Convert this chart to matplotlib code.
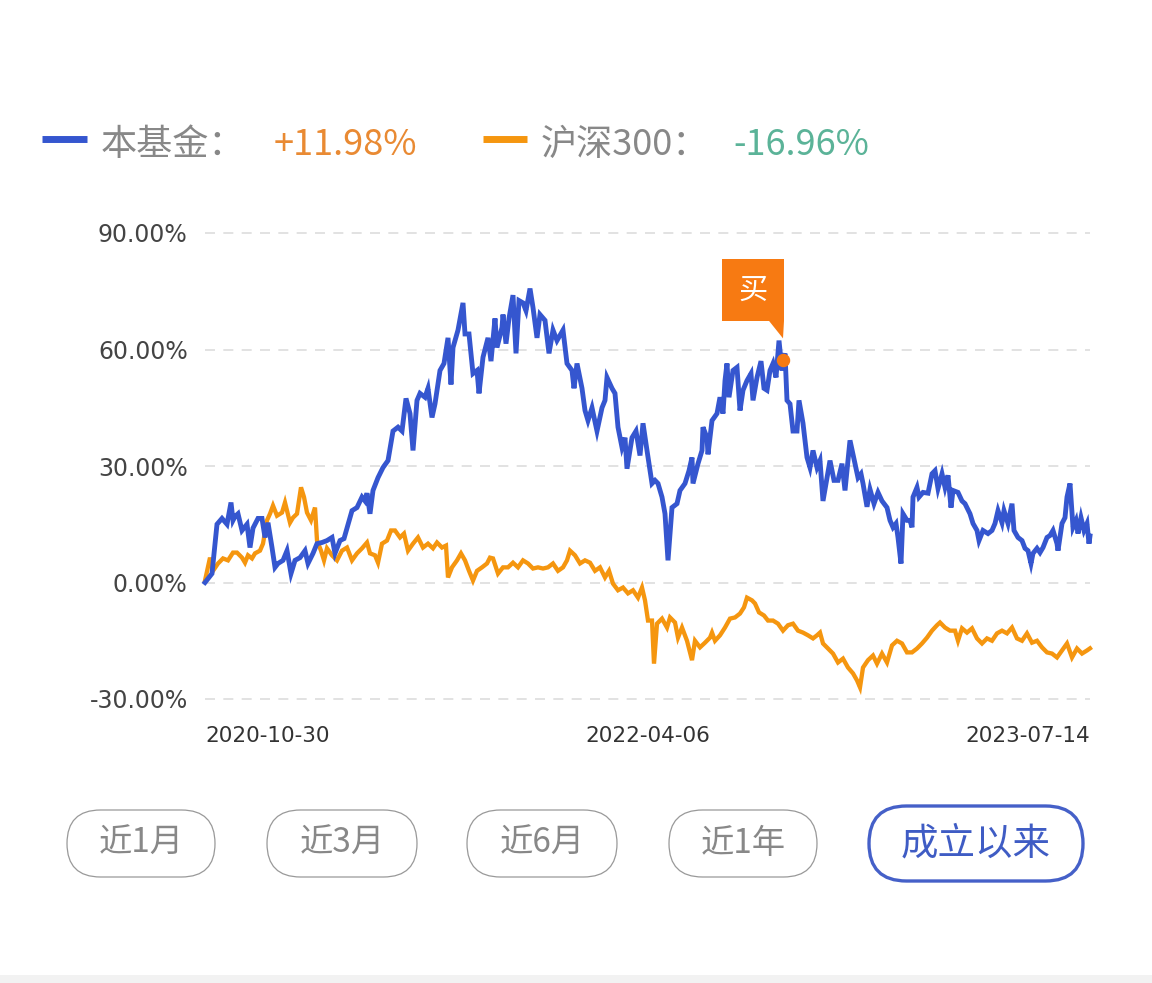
import matplotlib
matplotlib.use("Agg")
import matplotlib.pyplot as plt
from matplotlib.patches import FancyBboxPatch, Rectangle, Polygon
import numpy as np

plt.rcParams['font.family'] = ['Noto Sans CJK SC', 'DejaVu Sans']

# ---------------- data (sample index 0..885, cumulative return %) ----------------
fund_idx = [0, 7, 12, 17, 22, 26, 28, 30, 33, 37, 42, 45, 48, 53, 57, 60, 63, 67, 70, 73,
            78, 82, 86, 90, 95, 100, 103, 108, 112, 117, 122, 127, 130, 135, 139, 142, 147, 152, 157, 160,
            162, 165, 168, 173, 178, 183, 188, 193, 197, 201, 205, 208, 212, 215, 220, 223, 227, 230, 235, 239,
            243, 246, 248, 253, 258, 260, 264, 268, 272, 274, 278, 283, 286, 290, 292, 297, 298, 301, 304, 308,
            311, 314, 318, 321, 325, 328, 332, 335, 340, 344, 348, 352, 358, 362, 367, 369, 372, 377, 380, 383,
            387, 392, 397, 400, 402, 407, 410, 413, 417, 420, 422, 427, 431, 435, 438, 442, 447, 450, 453, 457,
            460, 463, 467, 472, 475, 480, 484, 487, 488, 493, 497, 498, 502, 503, 507, 512, 515, 518, 520, 522,
            524, 528, 532, 535, 538, 542, 546, 548, 552, 556, 559, 562, 565, 568, 571, 574, 577, 578, 580, 582,
            585, 588, 592, 594, 598, 602, 605, 608, 612, 615, 618, 622, 625, 629, 633, 637, 640, 645, 650, 653,
            656, 658, 662, 665, 669, 673, 677, 682, 685, 688, 691, 693, 696, 698, 702, 705, 707, 708, 712, 714,
            718, 723, 727, 730, 733, 737, 740, 743, 746, 748, 753, 757, 760, 765, 768, 772, 774, 778, 783, 787,
            790, 793, 797, 799, 803, 807, 809, 813, 817, 820, 823, 826, 828, 832, 835, 838, 842, 845, 848, 852,
            853, 857, 860, 862, 865, 868, 871, 873, 876, 879, 882, 884, 885]
fund_val = [0, 2.3, 15, 16.5, 15, 20.6, 16, 17, 17.7, 13.4, 15, 9, 14, 16.5, 16.5, 11.6, 15.4, 9, 3.9, 4.9,
            5.7, 8.2, 2.3, 5.7, 6.4, 8.2, 4.9, 7.5, 10, 10.3, 10.8, 11.6, 7.5, 10.8, 11.3, 14, 18.5, 19.3, 22, 21,
            23, 17.7, 23.7, 27, 29.6, 31.4, 39, 40, 39, 47.4, 43.5, 34, 46.9, 48.7, 47.7, 50, 42.5, 46, 54.6, 56.4,
            63, 51, 60.5, 65, 72, 64, 64, 53.8, 54.6, 48.7, 58, 63, 57, 68, 60.5, 65.7, 69, 61.5, 68, 74,
            59, 72.6, 72, 70, 75.7, 70.8, 63, 69, 67.5, 59, 65, 62.3, 65, 56.4, 54.6, 50, 56.4, 50, 44.3, 41.7,
            45, 39, 45, 46.9, 52.8, 50, 48.7, 40, 34.8, 37.3, 29.3, 37.3, 39, 32.7, 41, 34, 25.5, 26.3, 25.5, 22,
            17.7, 5.7, 19.3, 20.3, 23.7, 25.5, 28.8, 32.2, 25.5, 30.6, 34, 40, 37.3, 33, 41.7, 43.5, 47.7, 43.5, 52, 56.4,
            47.7, 54.6, 55.4, 44.3, 49.5, 52, 53.8, 46.9, 52.8, 57, 50, 49.5, 54.6, 56.4, 52.8, 62.3, 54.6, 57.2, 59, 46.9,
            46, 39, 39, 46.9, 41, 32.2, 29.6, 34, 29.6, 31.4, 21, 27, 31.4, 26.3, 26.3, 30.6, 23.7, 36.6, 30.6, 27,
            28, 25.5, 19.5, 24, 20.3, 23.2, 21, 19.3, 16, 14.2, 15.2, 11.6, 4.9, 17.7, 16, 16, 14.2, 22, 24.5, 22,
            23.2, 23, 28, 28.8, 24.2, 28, 24.5, 27.6, 19.3, 23.7, 23.2, 21, 20.3, 17.7, 15.2, 13.4, 10.8, 13.4, 12.6, 13.4,
            15.2, 18.5, 15.4, 18.5, 15.2, 20.3, 13.4, 11.6, 10.8, 8.8, 8.2, 4.9, 7.5, 8.8, 7.7, 9, 11.6, 12.1, 13.4, 10,
            8.2, 15.2, 16.7, 22, 25.5, 14.2, 16, 12.6, 16.7, 13.4, 15.2, 10, 11.98]

index_idx = [0, 5, 8, 13, 18, 23, 28, 32, 37, 40, 43, 47, 50, 55, 58, 62, 65, 68, 72, 77,
             80, 85, 88, 92, 96, 99, 102, 106, 110, 112, 116, 119, 122, 127, 132, 137, 142, 147, 152, 157,
             162, 165, 170, 173, 177, 182, 186, 190, 195, 199, 203, 208, 213, 218, 223, 228, 232, 237, 241, 243,
             247, 252, 256, 260, 264, 268, 272, 277, 282, 285, 288, 293, 298, 303, 308, 313, 318, 323, 328, 333,
             338, 343, 348, 353, 358, 362, 365, 370, 375, 380, 385, 390, 395, 400, 404, 408, 413, 418, 423, 428,
             433, 437, 440, 443, 447, 449, 452, 457, 462, 465, 470, 473, 477, 482, 487, 490, 495, 500, 505, 507,
             510, 515, 520, 525, 530, 535, 539, 542, 547, 550, 554, 559, 563, 568, 573, 578, 583, 588, 593, 598,
             603, 608, 612, 615, 618, 623, 628, 633, 638, 643, 648, 652, 655, 658, 663, 668, 672, 677, 682, 687,
             692, 697, 702, 707, 712, 717, 722, 727, 732, 735, 740, 745, 750, 753, 757, 762, 767, 772, 777, 782,
             787, 792, 797, 802, 807, 812, 817, 822, 827, 832, 837, 842, 847, 852, 857, 862, 867, 872, 877, 882, 885]
index_val = [0.5, 6.4, 3, 4.9, 6.2, 5.7, 7.7, 7.7, 6.4, 5.1, 7, 6.2, 7.5, 8.2, 10, 16, 17.7, 19.8, 17.2, 18,
             20.6, 15.4, 16.7, 17.7, 24.5, 22, 18, 16, 19.3, 10.8, 8.2, 5.7, 8.8, 7, 5.7, 8.2, 9, 5.7, 7.5, 8.8,
             10.3, 7.5, 7, 5.1, 10, 10.8, 13.4, 13.4, 11.6, 12.6, 8.2, 10, 11.6, 9, 10, 8.8, 10.3, 9, 9.5, 1.3,
             3.9, 5.7, 7.5, 5.7, 3, 0.5, 3, 3.9, 4.9, 6.4, 6.2, 2.3, 3.9, 3.9, 5.1, 3.9, 5.7, 4.9, 3.6, 3.9,
             3.6, 3.9, 4.9, 3, 3.9, 5.7, 8.2, 7, 4.9, 5.7, 5.1, 3, 3.9, 1.3, 3, -0.3, -2, -1.3, -2.8, -2,
             -3.9, -1.3, -4.6, -9.8, -9.8, -20.9, -10.6, -9.3, -11.6, -9, -10.3, -14.2, -11.6, -15, -20, -15, -16.7, -15.5, -14.2, -12.9,
             -15, -13.6, -11.6, -9.3, -9, -8, -6.4, -3.9, -4.6, -5.4, -7.7, -8.5, -9.8, -9.8, -10.6, -12.4, -11, -10.6, -12.4, -12.9,
             -13.6, -14.4, -13.6, -12.9, -15.7, -17, -18.3, -20.6, -19.6, -21.9, -23.4, -25.2, -27, -21.9, -20, -18.8, -20.9, -18.3, -20.6, -16.2,
             -15, -15.7, -18, -18, -17, -15.7, -14.2, -12.4, -11, -10.3, -11.6, -12.4, -12.4, -15, -11.8, -12.9, -11.8, -14.4, -15.7, -14.4,
             -15, -13.1, -12.4, -13.1, -11.6, -14.4, -15, -13.1, -15.5, -15, -16.7, -18, -18.3, -19.3, -17.5, -15.7, -19.3, -17, -18.3, -17.5, -16.96]

y_ticks = [-30, 0, 30, 60, 90]
x_tick_pos = [0, 442.5, 885]
x_tick_labels = ['2020-10-30', '2022-04-06', '2023-07-14']
buy_idx = 578
buy_val = 57.2
legend_names = ['本基金：', '沪深300：']
legend_values = ['+11.98%', '-16.96%']
buttons = ['近1月', '近3月', '近6月', '近1年', '成立以来']

BLUE = '#3556CF'
ORANGE = '#F5960F'
FLAG = '#F77A12'

W, H = 1152, 983
fig = plt.figure(figsize=(W / 100, H / 100), dpi=100)
fig.patch.set_facecolor('white')

# main axes: x 205..1090 px, y: 90 at 233 px, -30 at 699 px
ppu = (699 - 233) / 120.0
ylo, yhi = -33, 93
top_px = 233 - (yhi - 90) * ppu
bot_px = 699 + (-30 - ylo) * ppu
ax = fig.add_axes([205 / W, 1 - bot_px / H, 885 / W, (bot_px - top_px) / H])
ax.set_xlim(0, 885)
ax.set_ylim(ylo, yhi)
for s in ax.spines.values():
    s.set_visible(False)
ax.set_yticks(y_ticks)
ax.set_yticklabels([f'{v:.2f}%' for v in y_ticks], fontsize=17, color='#444444',
                   family=['DejaVu Sans'])
ax.tick_params(axis='y', length=0, pad=12.5)
ax.set_xticks([])
for v in y_ticks:
    ax.axhline(v, color='#dddddd', lw=1.2, ls=(0, (6, 5)), zorder=0, xmax=1.003)

ax.plot(index_idx, index_val, color=ORANGE, lw=3.1, zorder=2, clip_on=False, solid_joinstyle='miter')
ax.plot(fund_idx, fund_val, color=BLUE, lw=3.5, zorder=3, clip_on=False, solid_joinstyle='miter')
ax.scatter([buy_idx], [buy_val], s=75, color=FLAG, zorder=5, clip_on=False)

for pos, lab, ha in zip(x_tick_pos, x_tick_labels, ['left', 'center', 'right']):
    ax.text(pos, -39.4, lab, ha=ha, va='center', fontsize=15.5, color='#333333',
            family=['DejaVu Sans'], clip_on=False)

# overlay in pixel coordinates
ov = fig.add_axes([0, 0, 1, 1], zorder=10)
ov.set_xlim(0, W)
ov.set_ylim(H, 0)
ov.axis('off')
ov.patch.set_alpha(0)

fig.canvas.draw()
dx, dy = ax.transData.transform((buy_idx, buy_val))
px, py = dx, H - dy
ov.add_patch(Rectangle((px - 61, py - 101), 62, 62, color=FLAG, lw=0))
ov.add_patch(Polygon([(px - 14, py - 39.5), (px + 1, py - 39.5), (px, py - 22)], closed=True,
                     color=FLAG, lw=0))
ov.text(px - 30, py - 70, '买', ha='center', va='center', fontsize=21, color='white')

# legend
ov.plot([42, 87], [139, 139], color=BLUE, lw=5, solid_capstyle='butt')
ov.text(101, 145, legend_names[0], ha='left', va='center', fontsize=26, color='#888888')
ov.text(274, 145, legend_values[0], ha='left', va='center', fontsize=26, color='#E98A33')
ov.plot([483, 527], [139, 139], color=ORANGE, lw=5, solid_capstyle='butt')
ov.text(541, 145, legend_names[1], ha='left', va='center', fontsize=26, color='#888888')
ov.text(733, 145, legend_values[1], ha='left', va='center', fontsize=26, color='#5BB398')

# buttons
boxes = [(67, 810, 148, 67), (267, 810, 150, 67), (467, 810, 150, 67), (669, 810, 148, 67),
         (869, 806, 214, 75)]
for i, (bx, by, bw, bh) in enumerate(boxes):
    active = i == len(boxes) - 1
    ov.add_patch(FancyBboxPatch((bx, by), bw, bh,
                                boxstyle=f'round,pad=0,rounding_size={bh / 2}',
                                fc='white', ec='#4560C8' if active else '#999999',
                                lw=2.4 if active else 0.9))
    ov.text(bx + bw / 2, by + bh / 2, buttons[i], ha='center', va='center',
            fontsize=24 if not active else 27,
            color='#3F5CC4' if active else '#888888')

ov.add_patch(Rectangle((0, 975), W, 8, color='#f2f2f2', lw=0))

fig.savefig('out.png', dpi=100, facecolor='white')
